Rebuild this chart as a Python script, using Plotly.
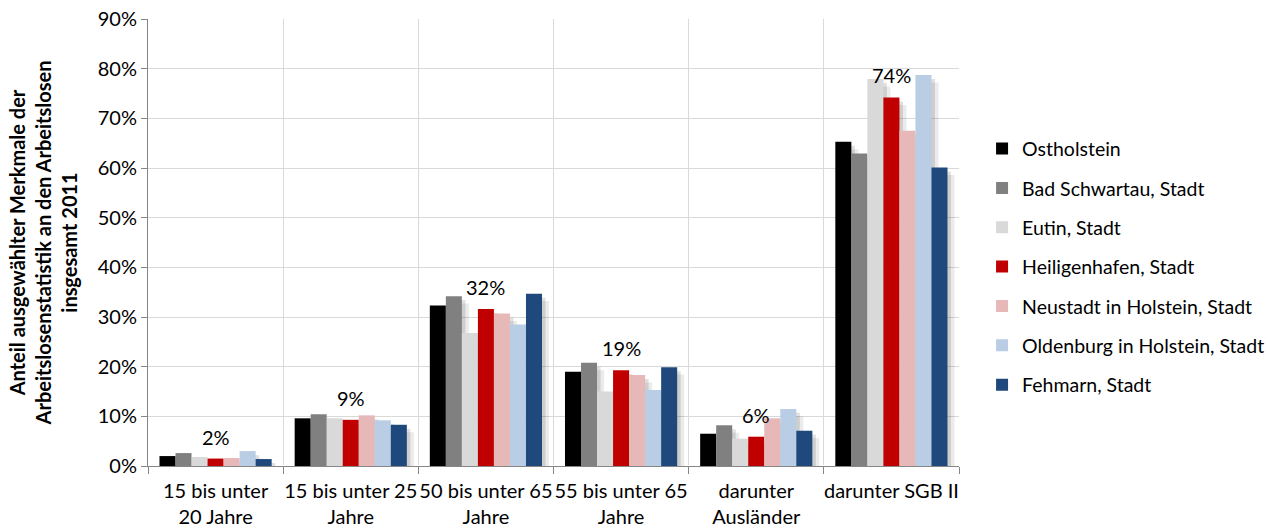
import plotly.graph_objects as go

# Merkmale der Arbeitslosen (Kategorien der x-Achse)
categories = [
    "15 bis unter<br>20 Jahre",
    "15 bis unter 25<br>Jahre",
    "50 bis unter 65<br>Jahre",
    "55 bis unter 65<br>Jahre",
    "darunter<br>Ausländer",
    "darunter SGB II",
]

# Anteile in Prozent je Gebiet
ostholstein = [2.0, 9.6, 32.3, 19.0, 6.5, 65.3]
bad_schwartau = [2.6, 10.4, 34.2, 20.8, 8.2, 62.9]
eutin = [1.8, 9.6, 26.8, 15.0, 5.5, 77.9]
heiligenhafen = [1.5, 9.3, 31.6, 19.3, 5.9, 74.2]
neustadt = [1.6, 10.2, 30.7, 18.3, 9.6, 67.5]
oldenburg = [3.0, 9.2, 28.5, 15.3, 11.5, 78.7]
fehmarn = [1.4, 8.3, 34.7, 19.9, 7.1, 60.1]

series_names = [
    "Ostholstein",
    "Bad Schwartau, Stadt",
    "Eutin, Stadt",
    "Heiligenhafen, Stadt",
    "Neustadt in Holstein, Stadt",
    "Oldenburg in Holstein, Stadt",
    "Fehmarn, Stadt",
]
series_values = [ostholstein, bad_schwartau, eutin, heiligenhafen, neustadt, oldenburg, fehmarn]
series_colors = ["#000000", "#808080", "#d9d9d9", "#c00000", "#e6b9b8", "#b9cde5", "#1f497d"]

# Heiligenhafen values are labelled above each group
labelled = heiligenhafen

FONT = "Lato"
FS = 20
GRID = "#d9d9d9"
AXIS = "#868686"

fig = go.Figure()

# Soft drop shadow: the same bars on hidden axis pairs whose ranges are
# nudged so they sit a few pixels right of and below the real bars.
# (axis pair, alpha, x-shift in categories, y-shift in percent)
shadow_layers = [("", 0.08, 0.052, 1.5), ("2", 0.12, 0.026, 0.8)]
for suffix, alpha, _, _ in shadow_layers:
    for vals in series_values:
        fig.add_trace(go.Bar(
            x=categories, y=vals, xaxis="x" + suffix, yaxis="y" + suffix,
            marker=dict(color=f"rgba(0,0,0,{alpha})", line=dict(width=0)),
            showlegend=False, hoverinfo="skip",
        ))

for i, (name, vals, col) in enumerate(zip(series_names, series_values, series_colors)):
    fig.add_trace(go.Bar(
        x=categories, y=vals, name=name, xaxis="x3", yaxis="y3",
        marker=dict(color=col, line=dict(width=0)),
        legendgroup=f"g{i}",
    ))

for cat, v in zip(categories, labelled):
    fig.add_annotation(
        x=cat, y=v, xref="x3", yref="y3", text=f"{round(v)}%",
        showarrow=False, yanchor="bottom", yshift=8,
        font=dict(family=FONT, size=FS, color="#000000"),
    )

layout = dict(
    width=1268, height=529,
    margin=dict(l=148, r=309, t=19, b=63),
    paper_bgcolor="white", plot_bgcolor="white",
    barmode="group", bargap=0.17, bargroupgap=0,
    font=dict(family=FONT, size=FS, color="#000000"),
    legend=dict(xref="container", yref="container",
                x=0.7745, xanchor="left", y=0.4955, yanchor="middle",
                tracegroupgap=11, maxheight=520,
                font=dict(family=FONT, size=19.5, color="#000000"),
                bgcolor="rgba(0,0,0,0)", itemwidth=30),
    showlegend=True,
)

for suffix, _, sx, sy in shadow_layers:
    xa = dict(type="category", range=[-0.5 - sx, 5.5 - sx], visible=False, showgrid=False)
    ya = dict(range=[sy, 90 + sy], visible=False, showgrid=False)
    if suffix:
        xa.update(overlaying="x", anchor="y" + suffix)
        ya.update(overlaying="y", anchor="x" + suffix)
    layout["xaxis" + suffix] = xa
    layout["yaxis" + suffix] = ya

layout["xaxis3"] = dict(
    type="category", overlaying="x", anchor="y3", range=[-0.5, 5.5],
    tickson="boundaries", showgrid=True, gridcolor=GRID, gridwidth=1,
    showline=True, linecolor=AXIS, linewidth=1, automargin=False,
    ticks="outside", ticklen=7, tickcolor=AXIS, ticklabelstandoff=7, tickangle=0,
    tickfont=dict(family=FONT, size=FS, color="#000000"),
)
layout["yaxis3"] = dict(
    overlaying="y", anchor="x3", side="left", range=[0, 90], dtick=10,
    ticksuffix="%", showgrid=True, gridcolor=GRID, gridwidth=1,
    showline=True, linecolor=AXIS, linewidth=1, automargin=False,
    ticks="outside", ticklen=6, tickcolor=AXIS,
    tickfont=dict(family=FONT, size=FS, color="#000000"),
    title=dict(
        text="<b>Anteil ausgewählter Merkmale der<br>Arbeitslosenstatistik an den Arbeitslosen<br>insgesamt 2011</b>",
        font=dict(family=FONT, size=FS, color="#000000"),
        standoff=14,
    ),
)

fig.update_layout(**layout)
fig.write_html("out.html")
